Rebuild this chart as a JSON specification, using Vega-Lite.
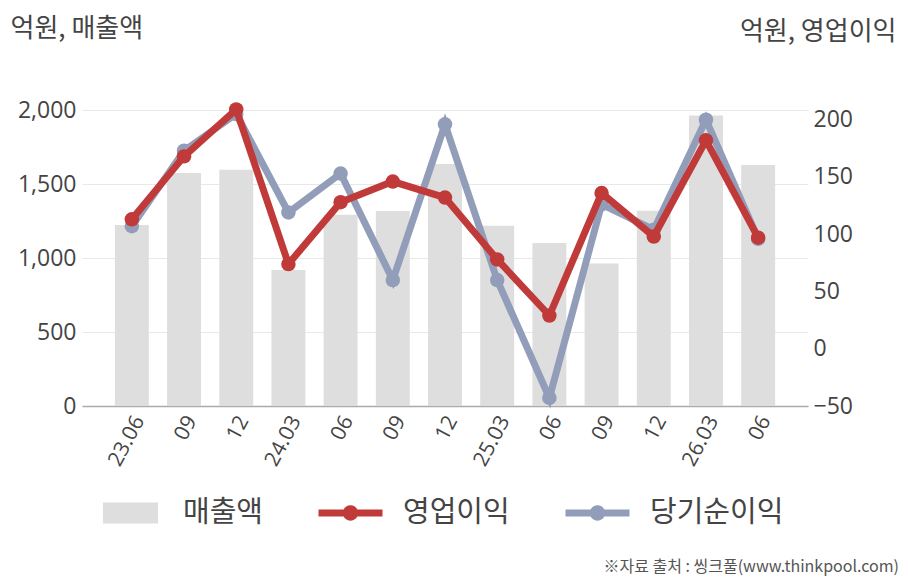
{
  "$schema": "https://vega.github.io/schema/vega-lite/v6.json",
  "autosize": "none",
  "width": 726,
  "height": 296,
  "padding": {"left": 82, "top": 110, "right": 100, "bottom": 174},
  "background": "white",
  "config": {
    "view": {"stroke": null},
    "axis": {"labelFont": "Open Sans", "titleFont": "Noto Sans CJK KR", "labelColor": "#444", "titleColor": "#444", "ticks": false, "titleFontWeight": "normal"}
  },
  "title": {
    "text": "※자료 출처 : 씽크풀(www.thinkpool.com)",
    "orient": "bottom",
    "anchor": "end",
    "frame": "group",
    "font": "Noto Sans CJK KR",
    "fontSize": 16,
    "fontWeight": "normal",
    "color": "#555",
    "dx": 91,
    "offset": 31
  },
  "data": {
    "values": [
      {"q": "23.06", "sales": 1223, "op": 113, "net": 107},
      {"q": "23.09", "sales": 1574, "op": 168, "net": 173},
      {"q": "23.12", "sales": 1597, "op": 209, "net": 205},
      {"q": "24.03", "sales": 919, "op": 74, "net": 119},
      {"q": "24.06", "sales": 1293, "op": 128, "net": 153},
      {"q": "24.09", "sales": 1318, "op": 146, "net": 60},
      {"q": "24.12", "sales": 1635, "op": 132, "net": 196},
      {"q": "25.03", "sales": 1218, "op": 78, "net": 60},
      {"q": "25.06", "sales": 1101, "op": 29, "net": -43},
      {"q": "25.09", "sales": 962, "op": 136, "net": 126},
      {"q": "25.12", "sales": 1320, "op": 98, "net": 104},
      {"q": "26.03", "sales": 1962, "op": 182, "net": 200},
      {"q": "26.06", "sales": 1628, "op": 97, "net": 96}
    ]
  },
  "encoding": {
    "x": {
      "field": "q",
      "type": "nominal",
      "sort": null,
      "scale": {"paddingInner": 0.35, "paddingOuter": 0.63},
      "axis": {
        "title": null,
        "labelAngle": -62,
        "labelAlign": "right",
        "labelBaseline": "top",
        "labelFontSize": 21,
        "labelPadding": 6,
        "labelOffset": -2,
        "domainColor": "#aaaaaa",
        "domainWidth": 1.5,
        "labelExpr": "(datum.value == '23.06' || slice(datum.value, 3) == '03') ? datum.value : slice(datum.value, 3)"
      }
    }
  },
  "layer": [
    {
      "mark": {"type": "bar", "color": "#dedede"},
      "encoding": {
        "y": {
          "field": "sales",
          "type": "quantitative",
          "scale": {"domain": [0, 2000], "nice": false},
          "axis": {
            "title": "억원, 매출액",
            "titleAngle": 0,
            "titleAlign": "left",
            "titleBaseline": "middle",
            "titleX": -72,
            "titleY": -82,
            "titleFontSize": 26,
            "values": [0, 500, 1000, 1500, 2000],
            "format": ",d",
            "labelFontSize": 23,
            "labelPadding": 6,
            "domain": false,
            "grid": true,
            "gridColor": "#e8e8e8"
          }
        },
        "color": {
          "datum": "매출액",
          "scale": {"domain": ["매출액", "영업이익", "당기순이익"], "range": ["#dedede", "#c13a3a", "#929eb9"]},
          "legend": {
            "title": null,
            "orient": "none",
            "direction": "horizontal",
            "legendX": 16.5,
            "legendY": 371,
            "padding": 0,
            "symbolSize": 4096,
            "labelFont": "Noto Sans CJK KR",
            "labelFontSize": 29,
            "labelColor": "#444",
            "labelOffset": 20.5,
            "columnPadding": 55,
            "labelLimit": 400,
            "encode": {
              "symbols": {
                "update": {
                  "shape": {"signal": "datum.value == '매출액' ? 'M-0.86,-0.33H0.86V0.33H-0.86Z' : 'M-1,-0.11H1V0.11H-1Z M-0.24,0A0.24,0.24,0,1,1,0.24,0A0.24,0.24,0,1,1,-0.24,0Z'"},
                  "fill": {"signal": "scale('color', datum.value)"},
                  "fillOpacity": {"value": 1},
                  "opacity": {"value": 1},
                  "strokeWidth": {"value": 0}
                }
              }
            }
          }
        }
      }
    },
    {
      "layer": [
        {
          "mark": {"type": "line", "strokeWidth": 7, "point": {"size": 210, "filled": true, "opacity": 1}},
          "encoding": {
            "y": {
              "field": "net",
              "type": "quantitative",
              "scale": {"domain": [-50, 208.5], "nice": false, "zero": false},
              "axis": {
                "orient": "right",
                "title": "억원, 영업이익",
                "titleAngle": 0,
                "titleAlign": "right",
                "titleBaseline": "middle",
                "titleX": 88,
                "titleY": -79,
                "titleFontSize": 26,
                "values": [-50, 0, 50, 100, 150, 200],
                "labelFontSize": 23,
                "labelPadding": 5,
                "labelAlign": "left",
                "domain": false,
                "grid": false
              }
            },
            "color": {"datum": "당기순이익"}
          }
        },
        {
          "mark": {"type": "line", "strokeWidth": 7, "point": {"size": 210, "filled": true, "opacity": 1}},
          "encoding": {
            "y": {
              "field": "op",
              "type": "quantitative",
              "scale": {"domain": [-50, 208.5], "nice": false, "zero": false},
              "axis": {
                "orient": "right",
                "title": "억원, 영업이익",
                "titleAngle": 0,
                "titleAlign": "right",
                "titleBaseline": "middle",
                "titleX": 88,
                "titleY": -79,
                "titleFontSize": 26,
                "values": [-50, 0, 50, 100, 150, 200],
                "labelFontSize": 23,
                "labelPadding": 5,
                "labelAlign": "left",
                "domain": false,
                "grid": false
              }
            },
            "color": {"datum": "영업이익"}
          }
        }
      ]
    }
  ],
  "resolve": {"scale": {"y": "independent"}}
}
